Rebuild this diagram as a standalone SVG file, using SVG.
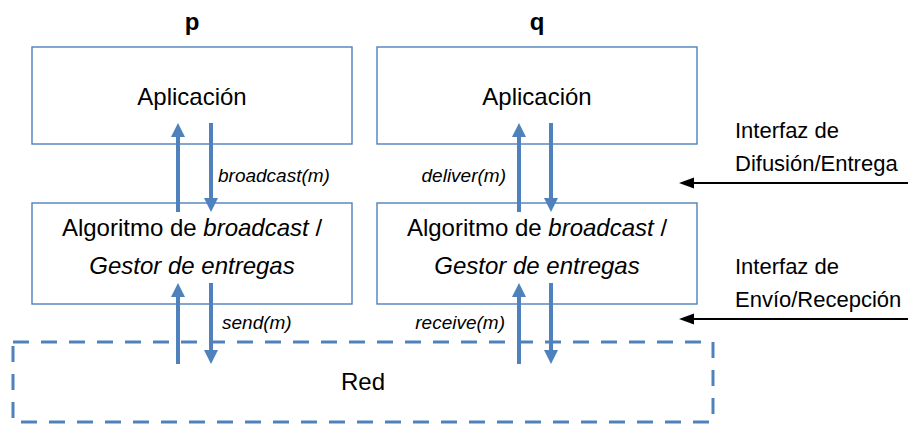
<svg xmlns="http://www.w3.org/2000/svg" width="908" height="428" viewBox="0 0 908 428">
<defs>
<style>
.box{fill:#fff;stroke:#4F81BD;stroke-width:1.4}
.net{fill:none;stroke:#4F81BD;stroke-width:3;stroke-dasharray:16 12}
.t{font-family:"Liberation Sans",Arial,sans-serif;fill:#000}
.main{font-size:24px;text-anchor:middle}
.head{font-size:24px;font-weight:bold;text-anchor:middle}
.lbl{font-size:19px;font-style:italic}
.side{font-size:22px}
.it{font-style:italic}
.ba{stroke:#4F81BD;stroke-width:4;fill:none;marker-end:url(#bh)}
.ka{stroke:#000;stroke-width:2;fill:none;marker-end:url(#kh)}
</style>
<marker id="bh" markerUnits="userSpaceOnUse" markerWidth="16" markerHeight="16" refX="0" refY="8" orient="auto" viewBox="0 0 16 16">
<path d="M0,1 L14,8 L0,15 Z" fill="#4F81BD"/>
</marker>
<marker id="kh" markerUnits="userSpaceOnUse" markerWidth="16" markerHeight="14" refX="0" refY="7" orient="auto" viewBox="0 0 16 14">
<path d="M0,1.5 L15,7 L0,12.5 Z" fill="#000"/>
</marker>
</defs>
<rect width="908" height="428" fill="#fff"/>

<g id="label-p"><text class="t head" x="192" y="30">p</text></g>
<g id="label-q"><text class="t head" x="537" y="30">q</text></g>

<g id="app-p">
<rect class="box" x="32" y="47" width="320" height="97"/>
<text class="t main" x="192" y="105">Aplicación</text>
</g>
<g id="app-q">
<rect class="box" x="377" y="47" width="320" height="97"/>
<text class="t main" x="537" y="105">Aplicación</text>
</g>
<g id="algo-p">
<rect class="box" x="32" y="203" width="320" height="101"/>
<text class="t main" x="192" y="236">Algoritmo de <tspan class="it">broadcast</tspan> /</text>
<text class="t main it" x="192" y="274">Gestor de entregas</text>
</g>
<g id="algo-q">
<rect class="box" x="377" y="203" width="320" height="101"/>
<text class="t main" x="537" y="236">Algoritmo de <tspan class="it">broadcast</tspan> /</text>
<text class="t main it" x="537" y="274">Gestor de entregas</text>
</g>
<g id="red">
<rect class="net" x="13" y="342" width="700" height="80"/>
<text class="t main" x="363" y="390">Red</text>
</g>

<g id="connectors">
<line class="ba" x1="178" y1="212" x2="178" y2="137"/>
<line class="ba" x1="211" y1="123" x2="211" y2="198"/>
<line class="ba" x1="519" y1="212" x2="519" y2="137"/>
<line class="ba" x1="551" y1="123" x2="551" y2="198"/>
<line class="ba" x1="178" y1="364" x2="178" y2="297"/>
<line class="ba" x1="211" y1="283" x2="211" y2="350"/>
<line class="ba" x1="519" y1="364" x2="519" y2="297"/>
<line class="ba" x1="551" y1="283" x2="551" y2="350"/>
<line class="ka" x1="908" y1="183" x2="694" y2="183"/>
<line class="ka" x1="908" y1="319" x2="694" y2="319"/>
<text class="t lbl" x="218" y="182">broadcast(m)</text>
<text class="t lbl" x="506" y="182" text-anchor="end">deliver(m)</text>
<text class="t lbl" x="222" y="329">send(m)</text>
<text class="t lbl" x="505" y="329" text-anchor="end">receive(m)</text>
</g>

<g id="iface-1">
<text class="t side" x="735" y="138">Interfaz de</text>
<text class="t side" x="735" y="171">Difusión/Entrega</text>
</g>
<g id="iface-2">
<text class="t side" x="735" y="274">Interfaz de</text>
<text class="t side" x="735" y="307">Envío/Recepción</text>
</g>
</svg>
